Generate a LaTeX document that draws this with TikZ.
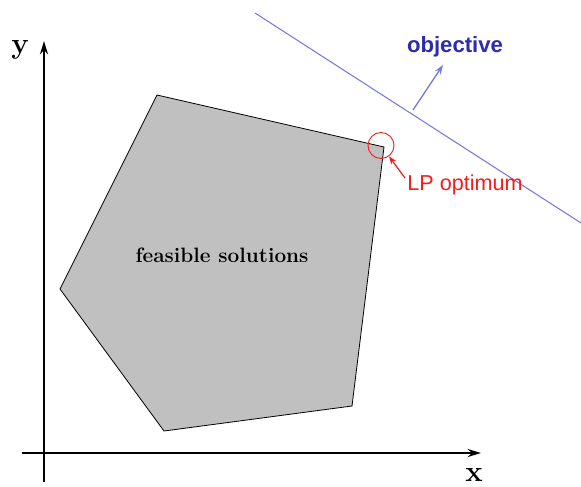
\documentclass[tikz,border=0pt]{standalone}
\usepackage{fontspec}
\newfontfamily\sansf{Liberation Sans}
\usetikzlibrary{arrows.meta}
\definecolor{objline}{RGB}{120,120,225}
\definecolor{objtext}{RGB}{45,45,170}
\definecolor{optred}{RGB}{240,30,30}
\definecolor{feasgray}{RGB}{192,192,192}
\tikzset{
  axis/.style={line width=2pt,-{Stealth[length=10pt,width=6pt]}},
  axlabel/.style={font=\fontsize{22}{24}\selectfont\bfseries},
  region/.style={fill=feasgray,draw=black,line width=0.6pt},
  objl/.style={draw=objline,line width=0.8pt},
  objarrow/.style={draw=objline,line width=1pt,-{Stealth[length=7pt,width=5pt]}},
  optcircle/.style={circle,draw=optred,line width=0.7pt,minimum size=19.5pt,inner sep=0pt},
  optarrow/.style={draw=optred,line width=0.9pt,-{Stealth[length=6pt,width=4.5pt]}},
}
\begin{document}
\begin{tikzpicture}[x=0.75pt,y=-0.75pt]
\useasboundingbox (0,0) rectangle (581,486);
% axes
\coordinate (yb) at (44,482);
\coordinate (yt) at (44,41);
\coordinate (xl) at (22,453);
\coordinate (xr) at (481,453);
\draw[axis] (yb) -- (yt);
\draw[axis] (xl) -- (xr);
\node[axlabel] (ylab) at (20,50) {y};
\node[axlabel] (xlab) at (474,475) {x};
% feasible region
\coordinate (p1) at (157,95);
\coordinate (p2) at (384,147);
\coordinate (p3) at (352,406);
\coordinate (p4) at (164,431);
\coordinate (p5) at (60,289);
\draw[region] (p1) -- (p2) -- (p3) -- (p4) -- (p5) -- cycle;
\node[font=\fontsize{15.6}{18}\selectfont\bfseries] (feas) at (222,255) {feasible solutions};
% objective
\coordinate (o1) at (255,13);
\coordinate (o2) at (581,223);
\draw[objl] (o1) -- (o2);
\coordinate (oa) at (413,110);
\coordinate (ob) at (443,65);
\draw[objarrow] (oa) -- (ob);
\node[font=\sansf\fontsize{16.6}{20}\selectfont\bfseries,text=objtext] (objt) at (455,47) {objective};
% LP optimum
\node[optcircle] (opt) at (381,145.5) {};
\coordinate (lptail) at (405,178);
\draw[optarrow] (lptail) -- (opt);
\node[font=\sansf\fontsize{16.2}{19}\selectfont,text=optred] (lp) at (465,185) {LP optimum};
\end{tikzpicture}
\end{document}
